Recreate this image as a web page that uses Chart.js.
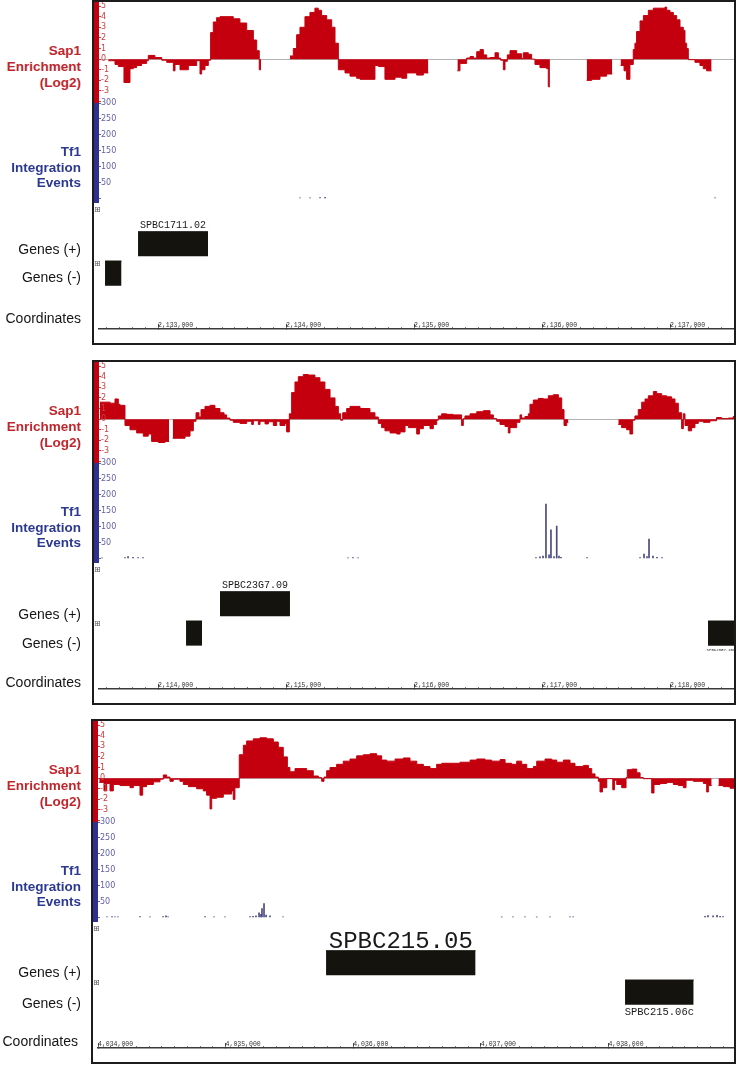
<!DOCTYPE html>
<html>
<head>
<meta charset="utf-8">
<script src="https://cdn.jsdelivr.net/npm/chart.js@4.4.0/dist/chart.umd.min.js"></script>
<style>
  body { margin: 0; background: #fff; width: 739px; height: 1067px; position: relative; overflow: hidden; font-family: "Liberation Sans", Arial, sans-serif; }
  .panel { position: absolute; border: 2px solid #1c1c1c; box-sizing: border-box; background: #fff; }
  .panel canvas { position: absolute; left: 0; top: 0; }
  .lbl { position: absolute; text-align: right; white-space: nowrap; }
  .sap { color: #c0272d; font-weight: bold; font-size: 13.5px; line-height: 16px; }
  .tf { color: #2b3990; font-weight: bold; font-size: 13.5px; line-height: 15.5px; }
  .blk { color: #151515; font-size: 14px; line-height: 16px; }
  .plus { position: absolute; font-family: "DejaVu Sans", sans-serif; font-size: 8px; line-height: 8px; color: #555; }
</style>
</head>
<body>
<script>
// ---- Sap1 enrichment (log2): step start positions (bp) and values, null = no probe ----
const sapPos1 = [2132612, 2132664, 2132690, 2132734, 2132781, 2132807, 2132833, 2132872, 2132911, 2132924,
  2132976, 2133029, 2133068, 2133120, 2133133, 2133172, 2133237, 2133302, 2133328, 2133341,
  2133367, 2133393, 2133411, 2133432, 2133458, 2133484, 2133588, 2133640, 2133693, 2133745,
  2133771, 2133791, 2133805, 2133806,
  2134031, 2134057, 2134083, 2134109, 2134148, 2134187, 2134226, 2134252, 2134278, 2134318,
  2134357, 2134383, 2134409, 2134461, 2134500, 2134552, 2134578, 2134695, 2134721, 2134773,
  2134852, 2134904, 2134943, 2135021, 2135073, 2135112, 2135113,
  2135339, 2135359, 2135411, 2135438, 2135464, 2135490, 2135516, 2135542, 2135568, 2135594,
  2135633, 2135659, 2135677, 2135698, 2135711, 2135729, 2135750, 2135802, 2135841, 2135854,
  2135893, 2135919, 2135945, 2135984, 2136036, 2136049, 2136062, 2136063,
  2136349, 2136388, 2136453, 2136505, 2136549, 2136550,
  2136614, 2136641, 2136661, 2136687, 2136713, 2136726, 2136739, 2136766, 2136792, 2136831,
  2136870, 2136961, 2136974, 2137000, 2137026, 2137052, 2137078, 2137104, 2137117, 2137130,
  2137143, 2137195, 2137234, 2137260, 2137286, 2137325];
const sapVal1 = [-0.15, -0.5, -0.7, -2.2, -0.9, -0.8, -0.6, -0.4, -0.15, 0.35,
  0.15, -0.1, -0.3, -1.1, -0.5, -1.0, -0.6, -0.15, -1.4, -1.0,
  -0.6, -0.1, 2.5, 3.5, 3.9, 4.0, 3.8, 3.4, 2.7, 1.8,
  0.8, -1.0, -1.0, null,
  0.3, 1.0, 2.3, 3.0, 4.0, 4.4, 4.8, 4.6, 4.1, 3.7,
  3.0, 1.5, -1.0, -1.3, -1.6, -1.8, -1.9, -0.6, -0.7, -1.9,
  -1.7, -1.8, -1.3, -1.5, -1.3, -1.3, null,
  -1.1, -0.4, 0.1, 0.25, 0.1, 0.7, 0.9, 0.4, 0.1, 0.15,
  0.6, 0.1, -0.1, -1.0, -0.2, 0.4, 0.8, 0.5, 0.05, 0.6,
  0.45, 0, -0.5, -0.8, -0.9, -2.6, -2.6, null,
  -2.0, -1.9, -1.6, -1.4, -1.4, null,
  -0.6, -1.1, -1.9, -0.5, 0.9, 1.5, 2.6, 3.6, 4.1, 4.6,
  4.8, 4.9, 4.6, 4.4, 4.1, 3.7, 3.0, 2.7, 1.5, 1.0,
  -0.05, -0.3, -0.6, -0.9, -1.1, -1.1];

const sapPos2 = [2113547, 2113625, 2113664, 2113690, 2113703, 2113742, 2113781, 2113833, 2113885, 2113924,
  2113950, 2114003, 2114055, 2114086, 2114087,
  2114115, 2114211, 2114250, 2114276, 2114297, 2114320, 2114336, 2114367, 2114406, 2114445,
  2114484, 2114516, 2114536, 2114562, 2114588, 2114640, 2114693, 2114732, 2114745, 2114784,
  2114797, 2114836, 2114862, 2114901, 2114927, 2114953, 2114992, 2115005, 2115026, 2115044,
  2115070, 2115096, 2115135, 2115174, 2115226, 2115265, 2115304, 2115344, 2115383, 2115409,
  2115427, 2115443, 2115474, 2115500, 2115578, 2115656, 2115695, 2115721, 2115747, 2115773,
  2115813, 2115865, 2115891, 2115930, 2115956, 2116021, 2116042, 2116073, 2116125, 2116151,
  2116177, 2116190, 2116216, 2116255, 2116307, 2116372, 2116385, 2116398, 2116438, 2116490,
  2116542, 2116594, 2116620, 2116646, 2116672, 2116711, 2116737, 2116750, 2116802, 2116828,
  2116841, 2116867, 2116893, 2116906, 2116932, 2116971, 2117010, 2117049, 2117088, 2117128,
  2117154, 2117172, 2117193, 2117206, 2117207,
  2117596, 2117622, 2117661, 2117687, 2117708, 2117726, 2117752, 2117779, 2117805, 2117831,
  2117870, 2117896, 2117935, 2117974, 2118013, 2118039, 2118065, 2118091, 2118104, 2118117,
  2118143, 2118169, 2118195, 2118221, 2118260, 2118312, 2118364, 2118403, 2118455, 2118494, 2118515];
const sapVal2 = [1.6, 1.5, 1.9, 1.4, 1.3, -0.6, -1.0, -1.3, -1.6, -1.4,
  -2.1, -2.2, -2.1, -2.1, null,
  -1.8, -1.6, -1.1, -0.2, 0.6, 0.2, 0.9, 1.2, 1.3, 1.0,
  0.6, 0.4, 0.1, -0.1, -0.3, -0.4, -0.2, -0.5, -0.15, -0.5,
  -0.2, -0.45, -0.25, -0.6, -0.2, -0.6, -0.4, -1.2, 0.5, 2.5,
  3.5, 4.0, 4.2, 4.15, 3.9, 3.5, 2.8, 2.0, 1.2, 0.5,
  -0.1, 0.6, 1.0, 1.2, 1.0, 0.6, 0.2, -0.4, -0.8, -1.1,
  -1.3, -1.4, -1.2, -0.6, -0.8, -1.4, -0.9, -0.6, -0.9, -0.5,
  -0.1, 0.3, 0.5, 0.45, 0.4, -0.6, 0.05, 0.3, 0.5, 0.7,
  0.8, 0.4, 0.05, -0.2, -0.5, -0.7, -1.3, -0.8, -0.3, 0.4,
  0.1, 0.25, 0.5, 1.4, 1.8, 1.95, 1.9, 2.2, 2.3, 2.0,
  0.9, -0.6, -0.3, -0.3, null,
  -0.5, -0.8, -1.0, -1.4, -0.1, 0.3, 0.9, 1.6, 1.9, 2.2,
  2.6, 2.4, 2.2, 2.1, 1.9, 1.5, 0.6, -0.9, 0.5, -0.6,
  -1.1, -0.8, -0.4, -0.2, -0.3, -0.15, 0.15, 0.05, 0.1, 0.25, 0.25];

const sapPos3 = [4034010, 4034047, 4034068, 4034094, 4034120, 4034172, 4034251, 4034277, 4034329, 4034350,
  4034381, 4034434, 4034486, 4034512, 4034538, 4034564, 4034590, 4034642, 4034669, 4034708,
  4034773, 4034825, 4034851, 4034878, 4034891, 4034930, 4034982, 4035047, 4035060, 4035073,
  4035107, 4035139, 4035165, 4035217, 4035269, 4035322, 4035374, 4035413, 4035452, 4035484,
  4035504, 4035544, 4035635, 4035687, 4035727, 4035753, 4035771, 4035792, 4035818, 4035870,
  4035922, 4035975, 4036027, 4036079, 4036132, 4036184, 4036223, 4036263, 4036328, 4036393,
  4036445, 4036498, 4036550, 4036602, 4036654, 4036694, 4036837, 4036916, 4036968, 4037033,
  4037085, 4037151, 4037190, 4037242, 4037281, 4037320, 4037360, 4037412, 4037438, 4037503,
  4037556, 4037595, 4037647, 4037699, 4037738, 4037804, 4037843, 4037869, 4037895, 4037921,
  4037934, 4037953, 4037987, 4038034, 4038047, 4038065, 4038104, 4038138, 4038148, 4038182,
  4038222, 4038248, 4038274, 4038339, 4038357, 4038404, 4038457, 4038509, 4038548, 4038587,
  4038608, 4038666, 4038744, 4038770, 4038783, 4038809, 4038810,
  4038862, 4038901, 4038953, 4038992];
const sapVal3 = [-0.4, -1.2, -0.5, -1.2, -0.6, -0.7, -0.9, -0.7, -1.6, -0.8,
  -0.6, -0.35, -0.1, 0.3, 0.1, -0.3, -0.1, -0.3, -0.6, -0.8,
  -1.0, -1.2, -1.6, -2.9, -1.9, -1.8, -1.5, -1.2, -2.0, -0.9,
  2.2, 3.1, 3.5, 3.7, 3.8, 3.7, 3.4, 2.9, 2.0, 1.0,
  0.6, 0.9, 0.7, 0.2, 0.05, -0.3, 0.1, 0.7, 1.0, 1.3,
  1.6, 1.8, 2.1, 2.2, 2.3, 2.1, 1.7, 1.6, 1.8, 1.9,
  1.6, 1.3, 1.1, 0.9, 1.3, 1.4, 1.5, 1.7, 1.8, 1.7,
  1.6, 1.75, 1.4, 1.3, 1.6, 1.3, 0.9, 1.1, 1.6, 1.8,
  1.7, 1.5, 1.7, 1.4, 1.1, 1.2, 0.9, 0.4, 0.1, -0.3,
  -1.3, -0.9, -0.05, -1.1, -0.2, -0.6, -0.9, 0.05, 0.8, 0.85,
  0.5, 0.05, -0.05, -1.4, -0.6, -0.5, -0.4, -0.6, -0.7, -0.9,
  -0.2, -0.3, -0.5, -1.3, -0.7, -0.7, null,
  -0.7, -0.8, -0.95, 0.5];

// ---- Tf1 integration events: insertion positions (bp) and counts ----
const tfPos1 = [2134109, 2134188, 2134266, 2134305, 2137352];
const tfVal1 = [2, 2, 3, 4, 2];
const tfPos2 = [2113563, 2113742, 2113766, 2113805, 2113844, 2113883, 2115484, 2115523, 2115563,
  2116953, 2116984, 2117008, 2117031, 2117055, 2117070, 2117094, 2117115, 2117133, 2117148,
  2117352, 2117766, 2117797, 2117820, 2117836, 2117867, 2117898, 2117938];
const tfVal2 = [2, 3, 6, 4, 3, 3, 2, 3, 2,
  3, 5, 8, 171, 12, 90, 6, 102, 8, 4,
  3, 3, 14, 6, 61, 8, 4, 3];
const tfPos3 = [4034071, 4034110, 4034133, 4034157, 4034329, 4034408, 4034510, 4034533, 4034549, 4034839,
  4034909, 4034995, 4035191, 4035215, 4035238, 4035262, 4035277, 4035285, 4035301, 4035317,
  4035348, 4035450, 4037164, 4037252, 4037346, 4037438, 4037542, 4037699, 4037723, 4038757,
  4038780, 4038820, 4038851, 4038875, 4038898];
const tfVal3 = [2, 3, 2, 2, 3, 2, 3, 5, 2, 3,
  2, 2, 3, 4, 5, 15, 10, 28, 44, 8,
  5, 2, 2, 2, 2, 2, 2, 2, 2, 4,
  6, 5, 7, 4, 3];

// ---- genes ----
const geneName1 = ['SPBC1711.02', ''];
const geneStart1 = [2132844, 2132586];
const geneEnd1 = [2133391, 2132715];
const geneStrand1 = [1, -1];
const geneName2 = ['SPBC23G7.09', '', 'SPBC23G7.10c'];
const geneStart2 = [2114484, 2114219, 2118297];
const geneEnd2 = [2115031, 2114344, 2119300];
const geneStrand2 = [1, -1, -1];
const geneName3 = ['SPBC215.05', 'SPBC215.06c'];
const geneStart3 = [4035787, 4038130];
const geneEnd3 = [4036959, 4038668];
const geneStrand3 = [1, -1];

// tick labels
const coordTicks1 = [2133000, 2134000, 2135000, 2136000, 2137000];
const coordTicks2 = [2114000, 2115000, 2116000, 2117000, 2118000];
const coordTicks3 = [4034000, 4035000, 4036000, 4037000, 4038000];
const sapTickLabels = [5, 4, 3, 2, 1, 0, -1, -2, -3];
const tfTickLabels = [300, 250, 200, 150, 100, 50];

const RED = '#c4000f';
const BLUE = '#2e3190';
const GENE_HALF = 0.42;

const panels = [
  { top: 0, left: 92, width: 644, xMin: 2132539, xMax: 2137500, coordTicks: coordTicks1,
    sapPos: sapPos1, sapVal: sapVal1, tfPos: tfPos1, tfVal: tfVal1,
    gName: geneName1, gStart: geneStart1, gEnd: geneEnd1, gStrand: geneStrand1, gFont: [10, 0],
    lab: { plus: 249, minus: 277, coord: 318, coordRight: 81 } },
  { top: 360, left: 92, width: 644, xMin: 2113539, xMax: 2118500, coordTicks: coordTicks2,
    sapPos: sapPos2, sapVal: sapVal2, tfPos: tfPos2, tfVal: tfVal2,
    gName: geneName2, gStart: geneStart2, gEnd: geneEnd2, gStrand: geneStrand2, gFont: [10, 0, 4],
    lab: { plus: 254, minus: 283, coord: 322, coordRight: 81 } },
  { top: 719, left: 91, width: 645, xMin: 4034000, xMax: 4038984, coordTicks: coordTicks3,
    sapPos: sapPos3, sapVal: sapVal3, tfPos: tfPos3, tfVal: tfVal3,
    gName: geneName3, gStart: geneStart3, gEnd: geneEnd3, gStrand: geneStrand3, gFont: [24, 10.5],
    lab: { plus: 253, minus: 284, coord: 322, coordRight: 78 } }
];

// gene names drawn next to their boxes
const geneLabelPlugin = {
  id: 'geneLabels',
  afterDatasetsDraw(chart, args, opts) {
    const ctx = chart.ctx, xs = chart.scales.x, ys = chart.scales.yGene;
    ctx.save();
    ctx.fillStyle = '#1a1a1a';
    ctx.textAlign = 'center';
    opts.names.forEach((name, i) => {
      if (!name) return;
      const row = opts.strand[i] > 0 ? 1 : 2;
      const x0 = xs.getPixelForValue(Math.max(opts.start[i], xs.min));
      const x1 = xs.getPixelForValue(Math.min(opts.end[i], xs.max));
      ctx.font = opts.fonts[i] + 'px "Liberation Mono", monospace';
      if (opts.strand[i] > 0) {
        ctx.textBaseline = 'alphabetic';
        ctx.fillText(name, (x0 + x1) / 2, ys.getPixelForValue(row - GENE_HALF) - (opts.fonts[i] > 15 ? 3 : 4));
      } else {
        ctx.textBaseline = 'top';
        ctx.fillText(name, (x0 + x1) / 2, ys.getPixelForValue(row + GENE_HALF) + 2);
      }
    });
    ctx.restore();
  }
};

function addText(cls, text, top, right) {
  const d = document.createElement('div');
  d.className = 'lbl ' + cls;
  d.innerHTML = text;
  d.style.top = top + 'px';
  d.style.right = (739 - right) + 'px';
  document.body.appendChild(d);
}

// keep axis boxes at fixed sizes and stop label overhang from shrinking the plot
function fixWidth(s) { s.width = 5; s.paddingTop = 0; s.paddingBottom = 0; s.paddingLeft = 0; s.paddingRight = 0; }
function fixHeight(h) {
  return s => { s.height = h; s.paddingLeft = 0; s.paddingRight = 0; s.paddingTop = 0; s.paddingBottom = 0; };
}

function makePanel(p) {
  const box = document.createElement('div');
  box.className = 'panel';
  box.style.left = p.left + 'px';
  box.style.top = p.top + 'px';
  box.style.width = p.width + 'px';
  box.style.height = '345px';
  const cv = document.createElement('canvas');
  cv.width = p.width - 4;
  cv.height = 341;
  box.appendChild(cv);
  document.body.appendChild(box);

  addText('sap', 'Sap1<br>Enrichment<br>(Log2)', p.top + 43, 81);
  addText('tf', 'Tf1<br>Integration<br>Events', p.top + 144, 81);
  addText('blk', 'Genes (+)', p.top + p.lab.plus - 8, 81);
  addText('blk', 'Genes (-)', p.top + p.lab.minus - 8, 81);
  addText('blk', 'Coordinates', p.top + p.lab.coord - 8, p.lab.coordRight);
  [206, 260].forEach(t => {
    const s = document.createElement('span');
    s.className = 'plus';
    s.textContent = '\u229E';
    s.style.left = (p.left + 2) + 'px';
    s.style.top = (p.top + t) + 'px';
    document.body.appendChild(s);
  });

  const datasets = [
    { type: 'line', label: 'Sap1', xAxisID: 'x', yAxisID: 'ySap',
      data: p.sapPos.map((x, i) => ({ x: x, y: p.sapVal[i] })),
      stepped: true, fill: 'origin', spanGaps: false,
      backgroundColor: RED, borderColor: RED, borderWidth: 1, pointRadius: 0 },
    { type: 'bar', label: 'Tf1', xAxisID: 'x', yAxisID: 'yTf',
      data: p.tfPos.map((x, i) => ({ x: x, y: p.tfVal[i] })),
      backgroundColor: '#4a4a82', barThickness: 1 }
  ];
  p.gStart.forEach((s, i) => {
    const row = p.gStrand[i] > 0 ? 1 : 2;
    datasets.push({ type: 'line', label: p.gName[i] || 'gene', xAxisID: 'x', yAxisID: 'yGene',
      data: [{ x: s, y: row - GENE_HALF }, { x: p.gEnd[i], y: row - GENE_HALF }],
      fill: { value: row + GENE_HALF }, backgroundColor: '#14130e', borderColor: '#14130e',
      borderWidth: 1, pointRadius: 0 });
  });

  new Chart(cv, {
    type: 'line',
    data: { datasets: datasets },
    options: {
      responsive: false,
      animation: false,
      layout: { padding: 0 },
      plugins: {
        legend: { display: false },
        tooltip: { enabled: false },
        geneLabels: { names: p.gName, start: p.gStart, end: p.gEnd, strand: p.gStrand, fonts: p.gFont }
      },
      scales: {
        x: {
          type: 'linear', position: 'bottom', weight: 1, min: p.xMin, max: p.xMax, offset: false,
          afterFit: fixHeight(14),
          afterBuildTicks: s => { s.ticks = p.coordTicks.map(v => ({ value: v })); },
          ticks: { align: 'start', mirror: true, padding: 0,
            autoSkip: false, maxRotation: 0, color: '#333',
            font: { family: '"Liberation Mono", monospace', size: 6.5 },
            callback: v => v.toLocaleString('en-US') },
          grid: { offset: false, drawOnChartArea: false, tickLength: -5, tickColor: '#444', tickWidth: 1 },
          border: { color: '#3a3a3a', width: 1.5 }
        },
        xMinor: {
          type: 'linear', position: 'bottom', weight: 0, min: p.xMin, max: p.xMax, offset: false,
          afterFit: fixHeight(0),
          ticks: { stepSize: 100, includeBounds: false, autoSkip: false, maxRotation: 0, callback: () => '' },
          grid: { offset: false, drawOnChartArea: false, tickLength: -2, tickColor: '#777', tickWidth: 1 },
          border: { display: false }
        },
        ySap: {
          type: 'linear', position: 'left', stack: 'track', stackWeight: 101, weight: 3,
          min: -4.13, max: 5.38, backgroundColor: RED, afterFit: fixWidth,
          ticks: { stepSize: 1, includeBounds: false, autoSkip: false, mirror: true, padding: 2, z: 1,
            color: '#c8403f', font: { family: '"DejaVu Sans", sans-serif', size: 8 },
            callback: v => sapTickLabels.includes(v) ? String(v) : '' },
          grid: { color: c => (c.tick && c.tick.value === 0) ? '#b4b4b4' : 'rgba(0,0,0,0)',
            tickLength: -2, tickColor: '#c8403f' },
          border: { display: false }
        },
        yTf: {
          type: 'linear', position: 'left', stack: 'track', stackWeight: 100, weight: 2,
          min: -14, max: 300, backgroundColor: BLUE, afterFit: fixWidth,
          ticks: { stepSize: 50, includeBounds: false, autoSkip: false, mirror: true, padding: 2, z: 1,
            color: '#6262a8', font: { family: '"DejaVu Sans", sans-serif', size: 8 },
            callback: v => tfTickLabels.includes(v) ? String(v) : '' },
          grid: { drawOnChartArea: false, tickLength: -2, tickColor: '#6262a8' },
          border: { display: false }
        },
        yGene: {
          type: 'linear', position: 'left', stack: 'track', stackWeight: 126, weight: 1,
          min: -0.4, max: 3.9, reverse: true, afterFit: fixWidth,
          ticks: { display: false }, grid: { display: false }, border: { display: false }
        }
      }
    },
    plugins: [geneLabelPlugin]
  });
}

panels.forEach(makePanel);
</script>
</body>
</html>
